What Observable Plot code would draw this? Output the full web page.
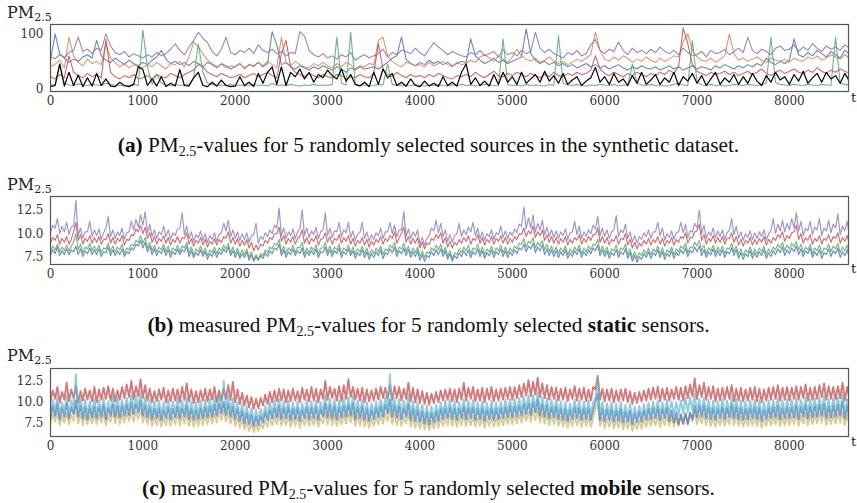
<!DOCTYPE html>
<html>
<head>
<meta charset="utf-8">
<script src="https://cdn.jsdelivr.net/npm/d3@7"></script>
<script src="https://cdn.jsdelivr.net/npm/@observablehq/plot@0.6"></script>
<style>
  html, body { margin: 0; padding: 0; background: #fff; }
  #root { position: relative; width: 857px; height: 503px; overflow: hidden; }
  .panel { position: absolute; left: 0; }
  .ylab { position: absolute; font-family: "DejaVu Serif", serif; font-size: 16px; color: #222; white-space: nowrap; }
  .ylab sub { font-size: 11px; vertical-align: -3px; }
  .tlab { position: absolute; font-family: "DejaVu Serif", serif; font-size: 13px; color: #222; }
  .cap { position: absolute; left: 0; width: 857px; text-align: center; font-family: "Liberation Serif", "Times New Roman", serif; font-size: 21.3px; line-height: 24px; color: #111; white-space: nowrap; }
  .cap sub { font-size: 14px; vertical-align: -4px; line-height: 0; }
</style>
</head>
<body>
<div id="root"></div>
<script>
// time step between consecutive values (t units)
const step = 50;
const xTicks = [0, 1000, 2000, 3000, 4000, 5000, 6000, 7000, 8000];

// ---------- (a) synthetic sources (one value per 50 t) ----------
const aBlue = [52,100,64,56,48,54,50,58,62,56, 88,60,52,48,56,50,44,52,46,42, 48,44,52,58,70,54,46,50,44,48, 42,50,46,40,48,44,38,46,42,36, 40,46,38,44,42,48,40,46,104,80, 44,48,40,36,42,38,34,40,36,42, 38,34,40,36,30,38,34,40,36,38, 40,36,42,48,56,60,94,54,46,42, 48,44,52,46,50,44,48,42,46,50, 48,91,60,52,46,50,56,48,52,46, 50,54,58,109,64,52,46,50,44,48, 42,46,40,44,38,42,46,40,44,38, 42,36,40,44,38,34,40,36,42,38, 36,40,34,38,42,36,40,34,38,42, 36,40,38,34,42,38,44,40,36,42, 38,44,40,46,42,56,48,44,50,46, 52,91,62,58,66,60,70,64,58,68, 62,56,70,64];
const aOrange = [40,45,52,38,94,60,48,42,54,46, 50,44,82,56,48,40,46,38,44,40, 38,44,40,48,42,36,46,44,50,40, 58,85,76,64,52,46,40,44,38,42, 40,46,36,44,40,48,42,50,44,38, 94,48,42,50,44,40,38,46,42,48, 42,38,46,40,48,44,36,42,40,46, 44,88,94,60,50,44,40,48,46,42, 44,40,48,42,46,50,44,40,48,44, 46,52,48,58,62,56,50,60,54,48, 58,72,60,54,50,56,48,52,58,50, 46,50,44,48,54,50,56,62,103,70, 54,50,58,52,60,56,48,54,50,58, 52,48,56,50,54,60,58,86,100,70, 58,52,50,56,48,54,60,100,64,52, 56,50,54,58,52,48,56,52,50,54, 48,56,52,50,58,54,60,52,56,62, 58,54,62,56];
const aGreen = [6,8,45,10,7,6,9,7,6,8, 7,6,10,8,6,7,5,6,8,6, 107,40,8,27,10,7,6,8,6,7, 8,20,82,30,10,8,6,7,6,8, 6,7,5,6,8,6,7,5,10,6, 7,6,8,6,5,7,6,8,6,7, 6,8,94,10,7,103,8,6,7,5, 6,8,7,45,8,6,7,5,6,8, 6,5,7,6,8,6,5,7,6,8, 6,7,5,6,8,7,6,5,91,8, 6,7,5,8,6,7,6,5,8,6, 97,10,7,6,8,6,5,7,6,8, 7,6,8,5,7,6,45,10,7,6, 8,6,7,5,6,8,10,7,6,88, 12,7,6,8,6,7,5,6,8,7, 6,8,7,6,8,10,94,12,8,7, 6,8,7,6,8,7,6,8,7,6, 94,10,8,6];
const aRed = [22,18,26,20,60,30,24,20,28,22, 26,20,90,30,22,18,24,20,26,18, 20,24,18,26,22,20,28,24,20,26, 30,34,44,40,30,26,22,28,24,20, 22,26,20,24,28,22,26,30,24,20, 64,88,40,30,26,22,28,24,20,26, 22,20,26,24,18,22,20,26,22,20, 28,82,36,26,22,30,24,20,26,22, 24,20,26,22,28,24,20,18,24,22, 26,22,30,24,20,26,32,24,22,28, 24,30,26,22,28,24,20,26,22,30, 24,22,28,24,30,26,28,34,60,36, 28,24,30,26,22,28,24,30,26,22, 28,24,30,26,34,28,40,111,82,44, 32,28,24,30,26,28,32,26,30,24, 28,32,26,30,36,28,24,30,34,28, 32,36,30,28,34,30,38,32,28,34, 30,36,32,28];
const aPurple = [58,55,62,57,66,70,94,68,72,64, 74,70,100,78,66,62,68,58,64,60, 56,62,58,66,60,64,72,82,70,62, 76,88,103,92,84,68,60,72,94,66, 62,70,66,74,64,80,70,66,72,64, 68,60,66,64,104,96,70,62,58,64, 56,60,54,62,58,66,52,58,62,56, 60,64,72,58,66,62,70,68,64,74, 66,60,72,84,76,70,62,68,64,60, 58,66,62,70,60,64,68,58,72,62, 66,60,70,64,68,103,74,66,72,64, 60,56,66,62,70,60,64,80,90,70, 64,72,68,85,70,62,74,66,70,64, 72,66,76,68,64,70,62,74,66,60, 62,68,58,70,64,66,72,62,68,74, 66,94,70,64,72,68,62,74,78,70, 72,80,68,76,70,82,74,68,78,72, 76,70,80,74];
const aBlack = [4,6,45,5,30,6,25,4,20,5, 28,6,18,5,4,12,6,4,8,40, 35,6,18,5,22,4,10,5,35,6, 5,20,30,6,4,12,5,16,6,4, 5,22,6,12,4,28,10,30,40,8, 40,6,30,22,36,18,30,12,26,20, 34,24,18,36,14,26,8,5,12,4, 30,8,36,20,28,6,12,5,18,6, 4,14,5,10,4,22,6,12,5,30, 45,8,20,6,14,5,26,8,30,12, 22,8,30,10,18,26,12,32,14,24, 10,28,8,16,22,6,14,20,39,12, 22,8,28,12,18,6,24,10,30,8, 16,26,8,20,12,30,6,22,14,28, 10,24,6,18,30,8,20,12,26,8, 22,10,28,14,6,24,12,30,16,22, 8,26,14,32,10,20,28,12,30,18, 24,10,28,14];

// ---------- (b) static sensors: low / high reading within each 50-t bin ----------
const bBlueLo = [7.7,7.9,7.7,7.8,7.8,8.1,7.8,7.6,7.9,7.8, 7.8,7.6,8.0,7.7,7.7,7.8,7.6,7.9,8.3,8.7, 8.5,8.1,7.8,7.7,7.9,7.7,7.5,7.8,7.8,8.1, 7.6,7.5,7.7,7.6,7.3,7.6,7.5,7.8,8.0,7.7, 7.5,7.4,7.5,7.2,7.1,7.2,7.4,7.6,7.9,8.3, 7.7,7.5,7.8,7.7,7.9,7.5,7.7,7.8,7.5,8.0, 7.7,7.6,7.9,7.5,7.8,7.7,7.4,7.7,7.5,7.3, 7.5,7.7,7.4,7.8,8.0,7.6,7.9,7.7,7.5,7.6, 7.2,7.1,7.5,7.7,7.8,7.6,7.3,7.1,7.4,7.6, 7.7,7.5,7.8,7.6,7.4,7.7,7.5,7.8,7.6,7.5, 7.7,7.9,8.3,8.1,8.4,8.0,8.2,7.8,7.7,7.6, 7.5,7.7,7.4,7.6,7.8,7.5,7.7,7.9,8.2,7.7, 7.6,7.4,7.7,7.5,7.8,7.4,7.1,7.0,7.3,7.5, 7.4,7.7,7.5,7.3,7.6,7.4,7.7,7.9,7.6,8.0, 8.1,7.7,7.5,7.8,7.6,7.7,7.5,7.9,7.7,7.4, 7.3,7.6,7.4,7.5,7.7,7.4,7.6,7.8,8.0,7.7, 7.9,8.1,7.8,7.6,7.9,7.5,7.7,7.4,7.8,7.6, 7.9,7.5,7.7,7.4];
const bBlueHi = [8.3,8.6,8.2,8.4,8.3,8.7,8.4,8.2,8.5,8.3, 8.4,8.1,8.6,8.3,8.2,8.4,8.1,8.5,8.9,9.3, 9.1,8.7,8.4,8.2,8.5,8.3,8.1,8.4,8.3,8.7, 8.2,8.0,8.3,8.1,7.9,8.2,8.1,8.4,8.6,8.2, 8.1,7.9,8.1,7.8,7.6,7.7,8.0,8.2,8.5,8.9, 8.3,8.1,8.4,8.2,8.5,8.1,8.2,8.4,8.1,8.6, 8.3,8.2,8.5,8.1,8.4,8.2,8.0,8.3,8.1,7.9, 8.1,8.3,8.0,8.4,8.6,8.2,8.5,8.3,8.1,8.2, 7.8,7.7,8.1,8.3,8.4,8.2,7.9,7.7,8.0,8.2, 8.3,8.1,8.4,8.2,8.0,8.3,8.1,8.4,8.2,8.1, 8.3,8.5,8.9,8.7,9.0,8.6,8.8,8.4,8.3,8.2, 8.1,8.3,8.0,8.2,8.4,8.1,8.3,8.5,8.8,8.3, 8.2,8.0,8.3,8.1,8.4,8.0,7.7,7.6,7.9,8.1, 8.0,8.3,8.1,7.9,8.2,8.0,8.3,8.5,8.2,8.6, 8.7,8.3,8.1,8.4,8.2,8.3,8.1,8.5,8.3,8.0, 7.9,8.2,8.0,8.1,8.3,8.0,8.2,8.4,8.6,8.3, 8.5,8.7,8.4,8.2,8.5,8.1,8.3,8.0,8.4,8.2, 8.5,8.1,8.3,8.0];
const bGreenLo = [8.1,8.3,8.1,8.2,8.2,9.1,8.3,8.0,8.4,8.2, 8.2,8.0,8.4,8.1,8.1,8.3,7.9,8.3,8.7,9.1, 9.0,8.5,8.2,8.1,8.3,8.1,7.9,8.2,8.1,8.5, 8.0,7.8,8.1,7.9,7.7,8.0,7.9,8.2,8.4,8.0, 7.9,7.7,7.8,7.5,7.2,7.3,7.7,8.0,8.4,8.8, 8.1,7.9,8.2,8.0,8.5,7.9,8.0,8.2,7.9,8.5, 8.1,8.0,8.3,7.9,8.2,8.0,7.8,8.1,7.9,7.7, 7.9,8.1,7.8,8.2,8.5,8.0,8.4,8.1,7.9,8.0, 7.6,7.5,7.9,8.2,8.3,8.0,7.6,7.4,7.8,8.0, 8.2,7.9,8.3,8.0,7.8,8.1,7.9,8.2,8.0,7.9, 8.1,8.4,8.9,8.6,9.0,8.5,8.7,8.3,8.1,8.0, 7.9,8.1,7.8,8.0,8.2,7.9,8.1,8.3,8.8,8.1, 8.0,7.8,8.2,7.9,8.3,7.8,7.5,7.4,7.7,7.9, 7.8,8.1,7.9,7.7,8.0,7.8,8.1,8.4,8.0,8.5, 8.7,8.2,7.9,8.2,8.0,8.1,7.9,8.4,8.1,7.8, 7.7,8.0,7.8,7.9,8.1,7.8,8.0,8.3,8.5,8.2, 8.4,8.6,8.3,8.0,8.3,7.9,8.2,7.9,8.3,8.1, 8.4,8.0,8.2,7.9];
const bGreenHi = [8.7,8.9,8.6,8.8,8.7,10.0,8.9,8.6,9.0,8.7, 8.8,8.5,9.0,8.7,8.6,8.9,8.5,8.9,9.3,9.8, 9.6,9.1,8.8,8.6,8.9,8.7,8.5,8.8,8.7,9.1, 8.6,8.4,8.7,8.5,8.3,8.6,8.5,8.8,9.0,8.6, 8.5,8.3,8.4,8.1,7.8,7.9,8.3,8.6,9.0,9.4, 8.7,8.5,8.8,8.6,9.1,8.5,8.6,8.8,8.5,9.1, 8.7,8.6,8.9,8.5,8.8,8.6,8.4,8.7,8.5,8.3, 8.5,8.7,8.4,8.8,9.1,8.6,9.0,8.7,8.5,8.6, 8.2,8.1,8.5,8.8,8.9,8.6,8.2,8.0,8.4,8.6, 8.8,8.5,8.9,8.6,8.4,8.7,8.5,8.8,8.6,8.5, 8.7,9.0,9.5,9.2,9.6,9.1,9.3,8.9,8.7,8.6, 8.5,8.7,8.4,8.6,8.8,8.5,8.7,8.9,9.4,8.7, 8.6,8.4,8.8,8.5,8.9,8.4,8.1,8.0,8.3,8.5, 8.4,8.7,8.5,8.3,8.6,8.4,8.7,9.0,8.6,9.1, 9.3,8.8,8.5,8.8,8.6,8.7,8.5,9.0,8.7,8.4, 8.3,8.6,8.4,8.5,8.7,8.4,8.6,8.9,9.1,8.8, 9.0,9.2,8.9,8.6,8.9,8.5,8.8,8.5,8.9,8.7, 9.0,8.6,8.8,8.5];
const bRedLo = [9.0,9.3,8.9,9.1,8.9,10.2,9.3,8.9,9.2,9.0, 9.1,8.9,9.4,9.0,8.9,9.2,8.8,9.3,9.8,10.2, 10.0,9.5,9.1,8.9,9.2,9.0,8.8,9.1,9.0,9.5, 8.9,8.7,9.0,8.8,8.6,8.9,8.8,9.1,9.5,9.0, 8.9,8.7,8.8,8.5,8.2,8.3,8.7,9.0,9.4,10.0, 9.2,8.9,9.1,8.9,9.7,9.0,8.9,9.2,8.8,9.5, 9.1,8.9,9.3,9.0,9.2,8.9,8.7,9.0,8.8,8.6, 8.8,9.1,8.9,9.2,9.5,9.0,10.0,9.1,8.9,9.0, 8.5,8.4,8.9,9.3,9.5,9.0,8.6,8.5,8.8,9.0, 9.2,8.9,9.3,9.0,8.8,9.1,8.9,9.2,9.0,8.9, 9.1,9.4,9.9,9.7,10.0,9.6,9.8,9.3,9.1,9.0, 8.9,9.1,8.8,9.0,9.3,8.9,9.1,9.3,9.9,9.1, 9.0,8.8,9.2,8.9,9.4,8.8,8.5,8.4,8.7,8.9, 8.8,9.1,8.9,8.7,9.0,8.8,9.1,9.5,9.0,9.6, 10.3,9.3,8.9,9.2,9.0,9.1,8.9,9.5,9.1,8.8, 8.7,9.0,8.8,8.9,9.1,8.8,9.0,9.3,9.6,9.2, 9.5,10.2,9.4,9.0,9.3,8.9,9.2,8.9,9.3,9.1, 9.5,9.0,9.2,8.9];
const bRedHi = [9.6,9.9,9.5,9.7,9.4,11.2,9.9,9.5,9.8,9.6, 9.7,9.4,10.0,9.6,9.5,9.8,9.4,9.9,10.5,10.9, 10.7,10.1,9.7,9.5,9.8,9.6,9.4,9.7,9.6,10.1, 9.5,9.3,9.6,9.4,9.2,9.5,9.4,9.7,10.2,9.6, 9.5,9.3,9.4,9.1,8.8,8.9,9.3,9.6,10.0,10.7, 9.8,9.5,9.7,9.5,10.4,9.6,9.5,9.8,9.4,10.1, 9.7,9.5,9.9,9.6,9.8,9.5,9.3,9.6,9.4,9.2, 9.4,9.7,9.5,9.8,10.2,9.6,10.7,9.7,9.5,9.6, 9.1,9.0,9.5,9.9,10.1,9.6,9.2,9.1,9.4,9.6, 9.8,9.5,9.9,9.6,9.4,9.7,9.5,9.8,9.6,9.5, 9.7,10.0,10.6,10.3,10.8,10.2,10.4,9.9,9.7,9.6, 9.5,9.7,9.4,9.6,9.9,9.5,9.7,9.9,10.6,9.7, 9.6,9.4,9.8,9.5,10.0,9.4,9.1,9.0,9.3,9.5, 9.4,9.7,9.5,9.3,9.6,9.4,9.7,10.1,9.6,10.2, 11.0,9.9,9.5,9.8,9.6,9.7,9.5,10.1,9.7,9.4, 9.3,9.6,9.4,9.5,9.7,9.4,9.6,9.9,10.2,9.8, 10.1,10.9,10.0,9.6,9.9,9.5,9.8,9.5,9.9,9.7, 10.1,9.6,9.8,9.5];
const bPurpleLo = [10.1,10.6,10.0,10.2,9.9,10.8,9.8,9.5,10.2,9.7, 9.8,9.4,10.6,9.7,9.5,9.8,9.4,10.2,10.4,10.7, 10.9,10.1,9.7,9.5,9.9,9.7,9.4,9.8,10.6,9.9, 9.5,9.2,9.6,9.3,9.1,9.4,9.2,10.1,10.3,9.7, 9.5,9.3,9.4,9.1,9.9,9.0,9.4,9.7,10.0,10.6, 9.8,9.5,9.8,9.5,10.5,9.8,9.6,9.9,9.5,10.4, 9.8,9.6,10.2,9.7,10.1,9.6,9.3,10.1,9.5,9.2, 9.4,9.8,9.5,10.2,10.0,9.7,10.4,9.7,9.5,9.7, 8.9,8.8,9.8,10.3,10.1,9.7,9.2,9.1,10.0,9.7, 9.9,10.2,9.8,9.5,9.3,9.7,9.4,9.9,9.6,9.5, 9.8,10.1,10.8,10.5,10.6,10.2,10.4,9.9,9.7,9.6, 9.5,9.8,9.4,10.2,9.9,9.5,9.7,10.0,10.5,9.8, 9.7,9.5,10.4,9.7,10.1,9.5,9.1,9.0,9.4,9.7, 9.5,10.2,9.8,9.3,9.6,9.4,10.2,10.1,9.6,10.2, 10.6,10.0,9.5,9.8,9.6,9.7,9.4,10.4,9.9,9.5, 9.3,9.6,9.4,9.5,9.7,9.3,10.3,10.0,10.3,10.2, 10.4,10.6,10.3,9.8,10.3,9.9,10.4,9.8,10.3,10.1, 10.6,9.9,10.3,9.8];
const bPurpleHi = [10.9,11.6,10.8,11.2,10.7,13.5,10.6,10.2,11.3,10.4, 10.5,10.1,11.8,10.4,10.2,10.6,10.1,11.3,11.5,12.0, 12.3,11.0,10.4,10.2,10.8,10.4,10.1,10.5,12.2,10.8, 10.2,9.9,10.3,10.0,9.8,10.1,9.9,11.1,11.4,10.4, 10.2,10.0,10.1,9.8,11.1,9.7,10.1,10.4,10.9,12.7, 10.6,10.2,10.5,10.2,12.5,10.6,10.3,10.7,10.2,12.2, 10.6,10.3,11.2,10.4,11.2,10.3,10.0,11.2,10.2,9.9, 10.1,10.6,10.2,11.2,10.9,10.4,12.3,10.5,10.2,10.4, 9.6,9.5,10.6,11.4,11.1,10.4,9.9,9.8,11.1,10.4, 10.7,11.2,10.6,10.2,10.0,10.4,10.1,10.8,10.3,10.2, 10.5,11.0,12.8,11.7,12.0,11.1,11.4,10.7,10.4,10.3, 10.2,10.5,10.1,11.3,10.8,10.2,10.4,10.9,11.8,10.6, 10.4,10.2,11.9,10.4,11.0,10.2,9.8,9.7,10.1,10.4, 10.2,11.2,10.6,10.0,10.3,10.1,11.2,11.0,10.3,11.1, 12.5,10.9,10.2,10.6,10.3,10.4,10.1,11.6,10.8,10.2, 10.0,10.3,10.1,10.2,10.4,10.0,11.6,11.0,11.4,11.1, 11.6,12.2,11.3,10.6,11.3,10.7,11.6,10.6,11.4,11.0, 12.1,10.8,11.3,10.6];

// ---------- (c) mobile sensors: low / high reading within each 50-t bin ----------
const cRedLo = [10.2,10.4,10.0,10.3,10.1,10.5,10.0,10.2,10.3,10.1, 10.0,10.3,10.4,10.2,10.1,10.3,10.5,10.6,10.4,10.7, 10.5,10.2,10.0,10.1,10.3,10.0,10.1,10.2,10.0,10.3, 10.1,9.9,10.0,10.2,10.1,10.3,10.0,10.2,10.4,10.3, 10.0,9.8,9.6,9.4,9.2,9.3,9.6,9.8,10.0,10.1, 10.2,10.0,10.1,10.2,10.0,10.3,10.1,10.2,10.0,10.4, 10.3,10.5,10.2,10.1,10.4,10.6,10.3,10.2,10.0,10.1, 10.2,10.3,10.5,10.4,10.3,10.5,10.2,10.4,10.1,10.0, 9.9,9.8,9.7,9.9,10.0,10.2,10.3,10.1,10.0,10.3, 10.2,10.4,10.1,10.2,10.0,10.3,10.1,10.2,10.3,10.4, 10.3,10.5,10.6,10.8,10.7,10.9,10.6,10.5,10.3,10.4, 10.2,10.3,10.1,10.4,10.2,10.3,10.1,10.2,11.5,10.3, 10.1,10.2,10.0,10.1,10.2,10.0,9.8,9.9,10.1,10.2, 10.3,10.4,10.1,10.3,10.2,10.4,10.3,10.2,10.5,10.7, 10.4,10.6,10.3,10.4,10.1,10.2,10.3,10.4,10.1,10.2, 10.1,10.2,10.3,10.1,10.0,10.2,10.3,10.4,10.2,10.3, 10.2,10.4,10.3,10.5,10.2,10.3,10.4,10.6,10.3,10.4, 10.3,10.5,10.2,10.4];
const cRedHi = [11.4,11.8,11.2,12.3,11.5,11.9,11.3,11.6,11.4,11.8, 11.5,11.7,11.9,11.6,11.4,11.8,12.1,12.5,11.9,12.7, 12.0,11.6,11.3,11.5,11.7,11.4,11.6,11.5,11.8,12.2, 11.5,11.3,11.4,11.6,11.5,11.8,11.4,11.6,12.0,12.4, 11.5,11.1,10.8,10.6,10.4,10.5,10.9,11.2,11.4,11.6, 11.5,11.4,11.6,11.3,11.7,11.5,11.8,11.6,11.5,12.5, 11.8,11.6,11.9,12.0,12.7,11.8,11.6,11.7,11.5,11.4, 11.6,11.8,11.7,12.0,11.9,11.8,11.6,12.3,11.7,11.5, 11.3,11.1,11.0,11.2,11.4,11.5,11.6,11.5,11.6,12.3, 11.7,11.8,11.5,11.7,11.6,11.8,11.5,11.6,11.7,11.8, 11.8,12.0,12.2,12.6,12.4,12.9,12.2,12.0,11.8,11.7, 11.6,11.7,11.5,11.9,11.6,11.7,11.5,11.8,13.1,11.6, 11.5,11.6,11.4,11.5,11.6,11.3,11.1,11.2,11.4,11.6, 11.7,11.8,11.6,11.7,11.5,11.8,11.7,11.9,12.1,12.8, 12.0,12.3,11.8,11.9,11.6,11.7,11.8,12.0,11.6,11.7, 11.5,11.7,11.8,11.6,11.5,11.7,11.8,12.0,11.7,11.8, 11.7,11.9,11.8,12.1,11.7,11.8,12.0,12.2,11.9,11.8, 11.9,12.3,11.8,11.9];
const cCyanLo = [8.7,8.9,8.5,8.8,8.6,9.2,8.8,8.6,8.5,8.7, 8.6,8.8,8.5,8.9,8.8,8.7,8.9,9.0,9.1,9.3, 8.9,8.7,8.5,8.6,8.4,8.6,8.5,8.7,8.6,8.8, 8.5,8.4,8.5,8.6,8.7,8.8,8.9,9.2,9.0,8.8, 8.5,8.3,8.0,7.9,7.7,7.8,8.1,8.4,8.6,8.7, 8.5,8.6,8.4,8.5,8.3,8.6,8.5,8.6,8.4,8.8, 8.7,8.6,8.5,8.7,8.8,8.9,8.5,8.6,8.4,8.3, 8.5,8.7,8.8,9.2,8.8,8.7,8.5,8.8,8.4,8.3, 8.2,8.0,7.9,8.1,8.3,8.5,8.6,8.5,8.4,8.6, 8.5,8.6,8.4,8.5,8.3,8.5,8.4,8.5,8.6,8.7, 8.7,8.8,8.9,9.1,9.0,9.3,8.9,8.8,8.6,8.7, 8.5,8.4,8.3,8.5,8.6,8.4,8.5,8.4,10.5,8.4, 8.3,8.4,8.2,8.3,8.1,8.2,7.9,8.1,8.2,8.4, 8.5,8.6,8.4,8.6,8.5,8.4,8.5,8.7,8.8,9.0, 8.7,8.8,8.6,8.5,8.4,8.6,8.5,8.7,8.6,8.5, 8.4,8.5,8.6,8.5,8.3,8.5,8.6,8.7,8.5,8.6, 8.6,8.7,8.5,8.8,8.6,8.7,8.8,8.9,8.6,8.7, 8.8,8.9,8.6,8.7];
const cCyanHi = [10.3,10.6,10.0,10.8,10.2,13.3,10.5,10.3,10.1,10.4, 10.2,10.5,10.1,10.7,10.6,10.3,10.5,10.9,10.8,11.2, 10.6,10.3,10.1,10.2,10.0,10.3,10.1,10.5,10.2,10.6, 10.1,10.0,10.2,10.3,10.4,10.6,10.8,12.5,10.9,10.5, 10.0,9.8,9.5,9.3,9.1,9.2,9.6,10.0,10.2,10.4, 10.1,10.2,10.0,10.1,9.9,10.3,10.1,10.2,10.0,10.8, 10.4,10.3,10.2,10.5,10.6,10.8,10.2,10.3,10.0,9.9, 10.1,10.3,10.6,13.3,10.5,10.4,10.2,10.9,10.1,10.0, 9.7,9.6,9.5,9.7,10.0,10.2,10.3,10.1,10.0,10.3, 10.2,10.3,10.0,10.1,9.9,10.2,10.0,10.1,10.3,10.4, 10.4,10.5,10.7,10.8,10.9,11.2,10.6,10.5,10.3,10.4, 10.1,10.0,9.9,10.3,10.2,10.1,10.2,10.0,12.8,10.0, 9.9,10.0,9.8,10.0,9.7,9.8,9.5,9.6,9.8,10.0, 10.1,10.2,10.0,10.3,10.1,10.0,10.2,10.5,10.6,11.0, 10.4,10.5,10.3,10.2,10.1,10.3,10.2,10.6,10.4,10.2, 10.1,10.2,10.3,10.2,10.0,10.2,10.3,10.5,10.2,10.4, 10.3,10.5,10.3,10.6,10.4,10.5,10.6,10.8,10.4,10.5, 10.6,10.9,10.4,10.5];
const cYellowLo = [7.5,7.7,7.3,7.6,7.4,7.8,7.5,7.3,7.4,7.5, 7.4,7.6,7.3,7.7,7.5,7.4,7.6,7.8,7.7,8.0, 7.6,7.4,7.2,7.3,7.1,7.3,7.2,7.4,7.3,7.5, 7.2,7.1,7.2,7.3,7.4,7.5,7.6,7.9,7.7,7.5, 7.2,7.0,6.8,6.6,6.5,6.6,6.9,7.1,7.3,7.4, 7.2,7.3,7.1,7.2,7.0,7.3,7.2,7.3,7.1,7.5, 7.4,7.3,7.2,7.4,7.5,7.6,7.2,7.3,7.1,7.0, 7.2,7.4,7.5,7.8,7.4,7.3,7.2,7.5,7.1,7.0, 6.9,6.8,6.7,6.9,7.0,7.2,7.3,7.2,7.1,7.3, 7.2,7.3,7.1,7.2,7.0,7.2,7.1,7.2,7.3,7.4, 7.4,7.5,7.6,7.8,7.7,7.9,7.6,7.5,7.3,7.4, 7.2,7.1,7.0,7.2,7.3,7.1,7.2,7.1,9.2,7.2, 7.0,7.1,6.9,7.0,6.8,6.9,6.6,6.8,6.9,7.1, 7.2,7.3,7.1,7.3,7.2,7.1,7.2,7.4,7.5,7.7, 7.4,7.5,7.3,7.2,7.1,7.3,7.2,7.4,7.3,7.2, 7.1,7.2,7.3,7.2,7.0,7.2,7.3,7.4,7.2,7.3, 7.3,7.4,7.2,7.5,7.3,7.4,7.5,7.6,7.3,7.4, 7.5,7.6,7.3,7.4];
const cYellowHi = [8.6,8.9,8.4,8.8,8.5,9.4,8.7,8.5,8.4,8.6, 8.5,8.7,8.4,8.9,8.7,8.6,8.8,9.0,8.9,9.2, 8.7,8.5,8.3,8.4,8.2,8.4,8.3,8.6,8.4,8.7, 8.3,8.2,8.4,8.5,8.6,8.7,8.9,9.1,8.8,8.6, 8.2,8.0,7.7,7.6,7.4,7.5,7.9,8.2,8.4,8.6, 8.3,8.4,8.2,8.3,8.1,8.4,8.3,8.4,8.2,8.8, 8.6,8.5,8.4,8.6,8.7,8.9,8.4,8.5,8.2,8.1, 8.3,8.5,8.7,9.2,8.6,8.5,8.3,8.8,8.2,8.1, 8.0,7.9,7.8,8.0,8.2,8.3,8.4,8.3,8.2,8.5, 8.3,8.4,8.2,8.3,8.1,8.3,8.2,8.3,8.4,8.5, 8.5,8.6,8.8,8.9,9.0,9.2,8.7,8.6,8.4,8.5, 8.3,8.2,8.1,8.4,8.3,8.2,8.3,8.1,9.8,8.2, 8.1,8.2,8.0,8.2,7.9,8.0,7.7,7.9,8.0,8.2, 8.3,8.4,8.2,8.4,8.3,8.2,8.4,8.6,8.7,8.9, 8.5,8.6,8.4,8.3,8.2,8.4,8.3,8.7,8.5,8.3, 8.2,8.3,8.4,8.3,8.1,8.3,8.4,8.6,8.3,8.4, 8.4,8.6,8.4,8.7,8.5,8.6,8.7,8.8,8.5,8.6, 8.7,8.9,8.5,8.6];
const cBlueLo = [8.2,8.4,8.0,8.3,8.1,8.6,8.3,8.1,8.0,8.2, 8.1,8.3,8.0,8.4,8.3,8.2,8.4,8.5,8.6,8.8, 8.4,8.2,8.0,8.1,7.9,8.1,8.0,8.2,8.1,8.3, 8.0,7.9,8.0,8.1,8.2,8.3,8.4,8.7,8.5,8.3, 8.0,7.8,7.5,7.4,7.2,7.3,7.6,7.9,8.1,8.2, 8.0,8.1,7.9,8.0,7.8,8.1,8.0,8.1,7.9,8.3, 8.2,8.1,8.0,8.2,8.3,8.4,8.0,8.1,7.9,7.8, 8.0,8.2,8.3,8.7,8.3,8.2,8.0,8.3,7.9,7.8, 7.7,7.5,7.4,7.6,7.8,8.0,8.1,8.0,7.9,8.1, 8.0,8.1,7.9,8.0,7.8,8.0,7.9,8.0,8.1,8.2, 8.2,8.3,8.4,8.6,8.5,8.8,8.4,8.3,8.1,8.2, 8.0,7.9,7.8,8.0,8.1,7.9,8.0,7.9,10.0,7.9, 7.8,7.9,7.7,7.8,7.6,7.7,7.4,7.6,7.7,7.9, 8.0,8.1,7.9,8.1,7.8,7.6,7.4,7.5,7.4,8.0, 8.2,8.3,8.1,8.0,7.9,8.1,8.0,8.2,8.1,8.0, 7.9,8.0,8.1,8.0,7.8,8.0,8.1,8.2,8.0,8.1, 8.1,8.2,8.0,8.3,8.1,8.2,8.3,8.4,8.1,8.2, 8.3,8.4,8.1,8.2];
const cBlueHi = [9.5,9.8,9.3,9.9,9.4,10.2,9.6,9.4,9.3,9.5, 9.4,9.7,9.3,9.8,9.6,9.5,9.7,9.9,9.8,10.2, 9.6,9.4,9.2,9.3,9.1,9.4,9.2,9.5,9.3,9.6, 9.2,9.1,9.3,9.4,9.5,9.7,9.8,10.0,9.8,9.5, 9.2,9.0,8.7,8.5,8.3,8.4,8.8,9.1,9.3,9.6, 9.3,9.4,9.2,9.3,9.1,9.4,9.3,9.4,9.2,9.8, 9.6,9.5,9.4,9.6,9.7,9.9,9.4,9.5,9.2,9.1, 9.3,9.5,9.7,10.3,9.6,9.5,9.3,9.8,9.2,9.1, 8.9,8.8,8.7,8.9,9.2,9.3,9.4,9.3,9.2,9.5, 9.3,9.4,9.2,9.3,9.1,9.3,9.2,9.3,9.4,9.5, 9.5,9.6,9.8,9.9,10.0,10.3,9.7,9.6,9.4,9.5, 9.3,9.2,9.1,9.4,9.3,9.2,9.3,9.1,11.0,9.2, 9.1,9.2,9.0,9.2,8.9,9.0,8.7,8.9,9.0,9.2, 9.3,9.4,9.2,9.4,9.0,8.8,8.6,8.7,8.8,9.6, 9.5,9.6,9.4,9.3,9.2,9.4,9.3,9.7,9.5,9.3, 9.2,9.3,9.4,9.3,9.1,9.3,9.4,9.6,9.3,9.4, 9.4,9.6,9.4,9.7,9.5,9.6,9.7,9.8,9.5,9.6, 9.7,10.1,9.5,9.6];

const colors = {blue: "#4C72B0", orange: "#DD8452", green: "#55A868", red: "#C44E52", purple: "#8172B3", black: "#000000", yellow: "#CCB974", cyan: "#64B5CD"};

// one row per reading
function rows(values) { return values.map((v, i) => ({t: i * step, v})); }
// low and high reading of each bin, placed in time order inside the bin
function binRows(lo, hi) { return lo.flatMap((l, i) => [{t: i * step, v: l}, {t: i * step + step / 2, v: hi[i]}]); }

function panel(series, yDomain, yTicks, yFmt, top, height, mTop, mBottom) {
  const marks = [];
  for (const [data, col, op, w] of series) {
    marks.push(Plot.lineY(data, {x: "t", y: "v", stroke: col, strokeOpacity: op, strokeWidth: w, clip: true}));
  }
  marks.push(Plot.frame({stroke: "#555", strokeWidth: 1.2}));
  const p = Plot.plot({
    width: 857, height,
    marginLeft: 50, marginRight: 9, marginTop: mTop, marginBottom: mBottom,
    x: {domain: [0, 8640], ticks: xTicks, tickSize: 0, tickPadding: 5, tickFormat: "d", label: null},
    y: {domain: yDomain, ticks: yTicks, tickSize: 0, tickPadding: 7, tickFormat: yFmt, label: null},
    style: {fontFamily: "DejaVu Serif, serif", fontSize: "12px", color: "#333", background: "transparent"},
    marks
  });
  const d = document.createElement("div");
  d.className = "panel";
  d.style.top = top + "px";
  d.appendChild(p);
  return d;
}

const root = document.getElementById("root");

root.appendChild(panel([
  [rows(aBlue), colors.blue, 0.85, 1.1],
  [rows(aOrange), colors.orange, 0.85, 1.1],
  [rows(aRed), colors.red, 0.85, 1.1],
  [rows(aPurple), colors.purple, 0.85, 1.1],
  [rows(aGreen), colors.green, 0.85, 1.1],
  [rows(aBlack), colors.black, 1, 1.2]
], [-4.9, 117], [0, 100], "d", 0, 110, 24, 19));

root.appendChild(panel([
  [binRows(bBlueLo, bBlueHi), colors.blue, 0.8, 1.2],
  [binRows(bGreenLo, bGreenHi), colors.green, 0.8, 1.2],
  [binRows(bRedLo, bRedHi), colors.red, 0.8, 1.2],
  [binRows(bPurpleLo, bPurpleHi), colors.purple, 0.75, 1.2]
], [6.76, 13.92], [7.5, 10, 12.5], ".1f", 172, 110, 24, 18));

root.appendChild(panel([
  [binRows(cRedLo, cRedHi), colors.red, 0.75, 1.9],
  [binRows(cYellowLo, cYellowHi), colors.yellow, 0.75, 1.9],
  [binRows(cBlueLo, cBlueHi), colors.blue, 0.7, 1.9],
  [binRows(cCyanLo, cCyanHi), colors.cyan, 0.7, 1.9]
], [5.97, 13.97], [7.5, 10, 12.5], ".1f", 344, 110, 24, 18));

function addHTML(cls, html, left, top) {
  const e = document.createElement("div");
  e.className = cls;
  e.innerHTML = html;
  if (left !== null) e.style.left = left + "px";
  e.style.top = top + "px";
  root.appendChild(e);
}

addHTML("ylab", "PM<sub>2.5</sub>", 7, 3);
addHTML("ylab", "PM<sub>2.5</sub>", 7, 175);
addHTML("ylab", "PM<sub>2.5</sub>", 7, 346);
addHTML("tlab", "t", 851, 90);
addHTML("tlab", "t", 851, 261);
addHTML("tlab", "t", 851, 434);
addHTML("cap", "<b>(a)</b> PM<sub>2.5</sub>-values for 5 randomly selected sources in the synthetic dataset.", null, 133);
addHTML("cap", "<b>(b)</b> measured PM<sub>2.5</sub>-values for 5 randomly selected <b>static</b> sensors.", null, 313);
addHTML("cap", "<b>(c)</b> measured PM<sub>2.5</sub>-values for 5 randomly selected <b>mobile</b> sensors.", null, 476);
</script>
</body>
</html>
